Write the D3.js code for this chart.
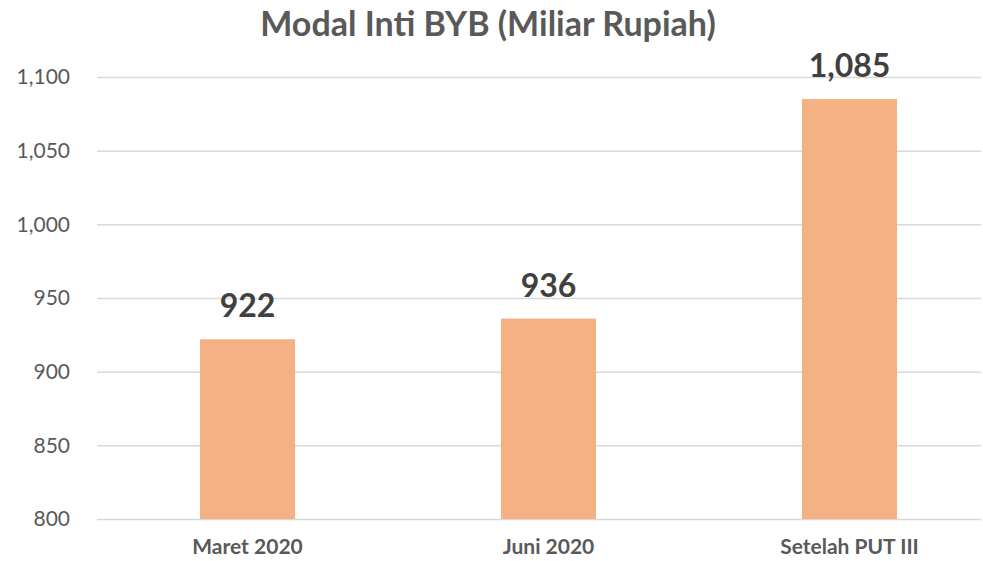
<!DOCTYPE html>
<html>
<head>
<meta charset="utf-8">
<script src="https://cdn.jsdelivr.net/npm/d3@7"></script>
<style>
	body { margin: 0; background: #fff; }
	#chart-area { width: 983px; height: 561px; }
	text { font-family: Lato, "Open Sans", sans-serif; }
</style>
</head>
<body>
<div id="chart-area"></div>
<script>
const title = 'Modal Inti BYB (Miliar Rupiah)';
const categories = ['Maret 2020', 'Juni 2020', 'Setelah PUT III'];
const values = [922, 936, 1085];
const yTicks = [800, 850, 900, 950, 1000, 1050, 1100];

window.addEventListener('DOMContentLoaded', () => {

	const svg = d3.select('#chart-area')
		.append('svg')
		.attr('width', 983)
		.attr('height', 561);

	// plot area
	const plot = { left: 97, right: 981, top: 77, bottom: 519 };

	const x = d3.scaleBand()
		.domain(categories)
		.range([97, 1000])
		.paddingInner(0.684)
		.paddingOuter(0.342);

	const y = d3.scaleLinear()
		.domain([800, 1100])
		.range([plot.bottom, plot.top]);

	// gridlines + y labels
	const leftAxis = d3.axisLeft(y)
		.tickValues(yTicks)
		.tickSize(-(plot.right - plot.left))
		.tickPadding(27)
		.tickFormat(d3.format(','));
	const yg = svg.append('g')
		.attr('transform', `translate(${plot.left}, 0)`)
		.call(leftAxis);
	yg.select('.domain').remove();
	yg.selectAll('.tick line')
		.attr('stroke', '#d9d9d9')
		.attr('stroke-width', 1.5);
	yg.selectAll('.tick text')
		.attr('fill', '#595959')
		.style('font-size', '21px');

	// bars
	svg.selectAll('rect.bar')
		.data(values)
		.enter()
			.append('rect')
			.attr('class', 'bar')
			.attr('x', (d, i) => x(categories[i]))
			.attr('y', (d) => y(d))
			.attr('width', x.bandwidth())
			.attr('height', (d) => y(800) - y(d))
			.attr('fill', '#f4b183');

	// value labels
	svg.selectAll('text.value')
		.data(values)
		.enter()
			.append('text')
			.attr('class', 'value')
			.attr('x', (d, i) => x(categories[i]) + x.bandwidth() / 2)
			.attr('y', (d) => y(d) - 22)
			.attr('text-anchor', 'middle')
			.attr('fill', '#404040')
			.style('font-size', '32px')
			.style('font-weight', 'bold')
			.text((d) => d3.format(',')(d));

	// x axis labels
	const bottomAxis = d3.axisBottom(x).tickSize(0).tickPadding(20);
	const xg = svg.append('g')
		.attr('transform', `translate(0, ${plot.bottom})`)
		.call(bottomAxis);
	xg.select('.domain').remove();
	xg.selectAll('.tick text')
		.attr('fill', '#595959')
		.style('font-size', '21px')
		.style('font-weight', 'bold');

	// title
	svg.append('text')
		.attr('x', 488)
		.attr('y', 36)
		.attr('text-anchor', 'middle')
		.attr('fill', '#595959')
		.style('font-size', '34px')
		.style('font-weight', 'bold')
		.text(title);

});
</script>
</body>
</html>
